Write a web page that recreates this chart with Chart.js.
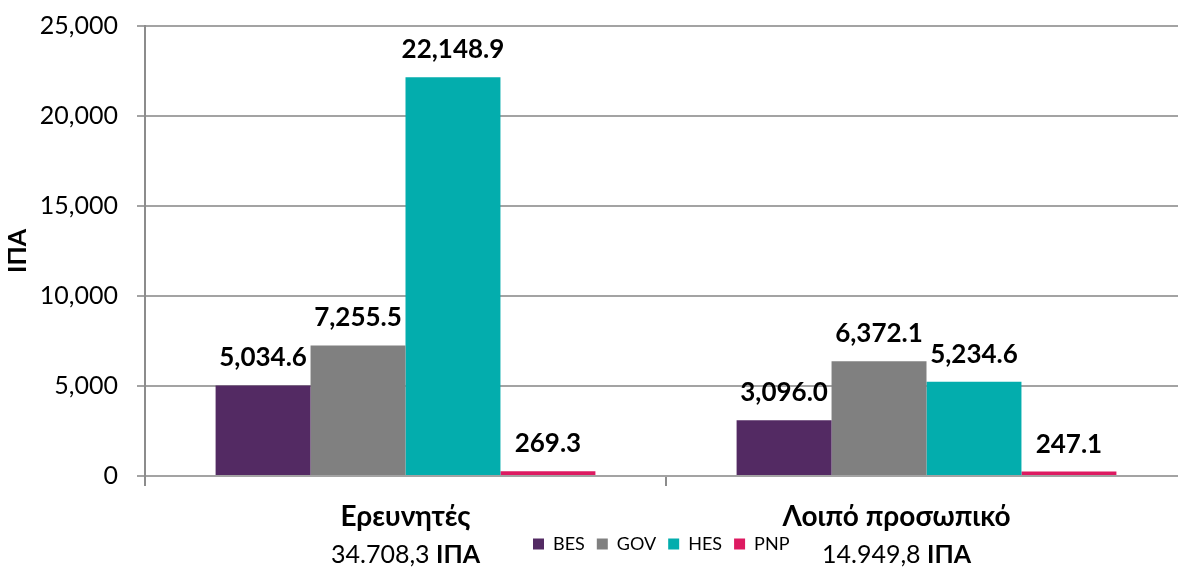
<!DOCTYPE html>
<html><head><meta charset="utf-8">
<script src="https://cdn.jsdelivr.net/npm/chart.js@4.4.1/dist/chart.umd.min.js"></script>
<style>html,body{margin:0;padding:0;background:#fff;overflow:hidden;width:1178px;height:570px}
canvas{display:block}</style></head><body>
<canvas id="c" width="1187" height="570"></canvas>
<script>
const categories = ['Ερευνητές', 'Λοιπό προσωπικό'];
const seriesNames = ['BES', 'GOV', 'HES', 'PNP'];
const BES = [5034.6, 3096.0];
const GOV = [7255.5, 6372.1];
const HES = [22148.9, 5234.6];
const PNP = [269.3, 247.1];
const yTicks = [0, 5000, 10000, 15000, 20000, 25000];
const yTitle = 'ΙΠΑ';
const unit = 'ΙΠΑ';
const colors = ['#532A63', '#808080', '#03ADAD', '#DD1A61'];

const FAM = "Lato, 'Open Sans', 'Noto Sans', sans-serif";
const series = [BES, GOV, HES, PNP];

function fmt(v, dec, th, dp) {
  const s = v.toFixed(dec);
  const parts = s.split('.');
  const i = parts[0].replace(/\B(?=(\d{3})+(?!\d))/g, th);
  return parts.length > 1 ? i + dp + parts[1] : i;
}
const totals = categories.map((c, i) => series.reduce((a, s) => a + s[i], 0));

const dataLabels = {
  id: 'dataLabels',
  afterDatasetsDraw(chart) {
    const ctx = chart.ctx;
    ctx.save();
    ctx.font = 'bold 26px ' + FAM;
    ctx.fillStyle = '#000';
    ctx.textAlign = 'center';
    ctx.textBaseline = 'alphabetic';
    chart.data.datasets.forEach((ds, di) => {
      chart.getDatasetMeta(di).data.forEach((bar, j) => {
        ctx.fillText(fmt(ds.data[j], 1, ',', '.'), bar.x, bar.y - 19);
      });
    });
    ctx.restore();
  }
};

const catLabels = {
  id: 'catLabels',
  afterDraw(chart) {
    const ctx = chart.ctx;
    const xs = chart.scales.x;
    const shift = [0, -30];
    ctx.save();
    ctx.fillStyle = '#000';
    ctx.textBaseline = 'alphabetic';
    categories.forEach((c, i) => {
      const cx = xs.getPixelForValue(i) + shift[i];
      ctx.font = 'bold 28px ' + FAM;
      ctx.textAlign = 'center';
      ctx.fillText(c, cx, 526);
      const num = fmt(totals[i], 1, '.', ',') + ' ';
      ctx.font = '25px ' + FAM;
      const w1 = ctx.measureText(num).width;
      ctx.font = 'bold 25px ' + FAM;
      const w2 = ctx.measureText(unit).width;
      const x0 = cx - (w1 + w2) / 2;
      ctx.textAlign = 'left';
      ctx.font = '25px ' + FAM;
      ctx.fillText(num, x0, 563);
      ctx.font = 'bold 25px ' + FAM;
      ctx.fillText(unit, x0 + w1, 563);
    });
    ctx.restore();
  }
};

const legendPlace = {
  id: 'legendPlace',
  afterLayout(chart) {
    const lg = chart.legend;
    if (!lg) return;
    const h = lg.height;
    lg.left = 521; lg.right = 521 + 620;
    lg.top = 523; lg.bottom = 523 + h;
  }
};

new Chart(document.getElementById('c'), {
  type: 'bar',
  data: {
    labels: categories,
    datasets: seriesNames.map((n, i) => ({
      label: n,
      data: series[i],
      backgroundColor: colors[i],
      borderWidth: 0,
      categoryPercentage: 0.729,
      barPercentage: 1.0
    }))
  },
  options: {
    responsive: false,
    animation: false,
    devicePixelRatio: 1,
    locale: 'en-US',
    layout: { autoPadding: false, padding: { top: 26, left: 0, right: 0, bottom: 0 } },
    plugins: {
      tooltip: { enabled: false },
      legend: {
        position: 'bottom',
        align: 'start',
        labels: { boxWidth: 11, boxHeight: 11, padding: 12, color: '#000', font: { family: FAM, size: 18 } }
      }
    },
    scales: {
      x: {
        ticks: { display: false },
        grid: { offset: true, drawOnChartArea: false, drawTicks: true, tickLength: 10, color: '#8c8c8c', lineWidth: 2 },
        border: { color: '#a3a3a3', width: 2 },
        afterFit: s => { s.height = 54; }
      },
      y: {
        min: 0, max: 25000,
        afterBuildTicks: s => { s.ticks = yTicks.map(v => ({ value: v })); },
        ticks: { color: '#000', padding: 19, font: { family: FAM, size: 25 }, callback: v => fmt(v, 0, ',', '.') },
        grid: { color: '#a3a3a3', lineWidth: 2, tickLength: 8, drawTicks: true },
        border: { color: '#8c8c8c', width: 2 },
        title: { display: true, text: yTitle, color: '#000', font: { family: FAM, size: 25, weight: 'bold' }, padding: { top: 3, bottom: 0 } },
        afterFit: s => { s.width = 145; s.paddingTop = 0; s.paddingBottom = 0; }
      }
    }
  },
  plugins: [dataLabels, catLabels, legendPlace]
});
</script>
</body></html>
